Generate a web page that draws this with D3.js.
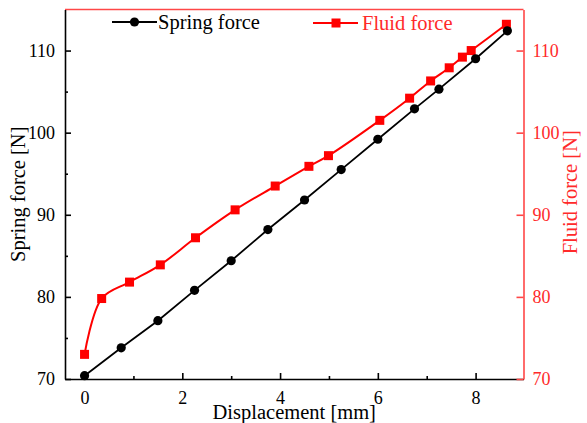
<!DOCTYPE html>
<html><head><meta charset="utf-8">
<script src="https://cdn.jsdelivr.net/npm/d3@7"></script>
<style>body{margin:0;background:#fff;} svg text{font-family:"Liberation Serif","Times New Roman",serif !important;}</style>
</head><body>
<svg id="chart" width="587" height="423"></svg>
<script>
const springX = [0, 0.75, 1.5, 2.25, 3, 3.75, 4.5, 5.25, 6, 6.75, 7.25, 8, 8.65];
const springY = [70.4, 73.8, 77.1, 80.8, 84.4, 88.2, 91.8, 95.5, 99.2, 102.9, 105.3, 109.0, 112.4];
const fluidX = [0, 0.35, 0.92, 1.55, 2.27, 3.08, 3.9, 4.59, 4.99, 6.04, 6.65, 7.08, 7.46, 7.73, 7.91, 8.63];
const fluidY = [73.0, 79.8, 81.8, 83.9, 87.2, 90.6, 93.5, 95.9, 97.2, 101.5, 104.2, 106.3, 107.9, 109.2, 110.0, 113.2];
const xTicks = [0, 2, 4, 6, 8];
const xMinor = [1, 3, 5, 7];
const yTicks = [70, 80, 90, 100, 110];
const yMinor = [75, 85, 95, 105];
const xTitle = "Displacement [mm]";
const yLeftTitle = "Spring force [N]";
const yRightTitle = "Fluid force [N]";
const legendNames = ["Spring force", "Fluid force"];

const svg = d3.select("#chart");
const L = 65, R = 523.5, T = 9.5, B = 379;
const red = "#ff0000", axisRed = "#ff4747", textRed = "#ff2a2a";
const x = d3.scaleLinear().domain([-0.4, 8.98]).range([L, R]);
const y = d3.scaleLinear().domain([70, 115]).range([B, T]);
const y2 = d3.scaleLinear().domain([70, 115]).range([B, T]);

const spring = springX.map((d, i) => [d, springY[i]]);
const fluid = fluidX.map((d, i) => [d, fluidY[i]]);

// top border
svg.append("line").attr("x1", L).attr("x2", R).attr("y1", T).attr("y2", T)
  .attr("stroke", axisRed).attr("stroke-width", 1.5);

function styleAxis(g, color, fs) {
  g.attr("font-family", null).attr("font-size", null);
  g.selectAll(".domain").attr("stroke", color).attr("stroke-width", 1.6);
  g.selectAll(".tick line").attr("stroke", color).attr("stroke-width", 1.6);
  g.selectAll(".tick text").attr("fill", color).style("font-size", fs + "px");
}

// bottom axis
const gx = svg.append("g").attr("transform", `translate(0,${B})`)
  .call(d3.axisBottom(x).tickValues(xTicks).tickSize(-6).tickSizeOuter(0).tickPadding(12).tickFormat(d3.format("d")));
styleAxis(gx, "#000", 18);
const gxm = svg.append("g").attr("transform", `translate(0,${B})`)
  .call(d3.axisBottom(x).tickValues(xMinor).tickSize(-3).tickSizeOuter(0).tickFormat(""));
styleAxis(gxm, "#000", 18);
gxm.select(".domain").remove();

// left axis
const gy = svg.append("g").attr("transform", `translate(${L},0)`)
  .call(d3.axisLeft(y).tickValues(yTicks).tickSize(-6).tickSizeOuter(0).tickPadding(10).tickFormat(d3.format("d")));
styleAxis(gy, "#000", 18);
const gym = svg.append("g").attr("transform", `translate(${L},0)`)
  .call(d3.axisLeft(y).tickValues(yMinor).tickSize(-3).tickSizeOuter(0).tickFormat(""));
styleAxis(gym, "#000", 18);
gym.select(".domain").remove();

// right axis
const gy2 = svg.append("g").attr("transform", `translate(${R},0)`)
  .call(d3.axisRight(y2).tickValues(yTicks).tickSize(-7).tickSizeOuter(0).tickPadding(9).tickFormat(d3.format("d")));
styleAxis(gy2, axisRed, 18);
gy2.selectAll(".tick text").attr("fill", textRed);

// titles
svg.append("text").attr("x", (L + R) / 2).attr("y", 419).attr("text-anchor", "middle")
  .style("font-size", "20.5px").attr("fill", "#000").text(xTitle);
svg.append("text").attr("transform", `translate(25,${(T + B) / 2}) rotate(-90)`).attr("text-anchor", "middle")
  .style("font-size", "20.5px").attr("fill", "#000").text(yLeftTitle);
svg.append("text").attr("transform", `translate(577,${(T + B) / 2 - 2}) rotate(-90)`).attr("text-anchor", "middle")
  .style("font-size", "20.5px").attr("fill", textRed).text(yRightTitle);

// lines
const lineS = d3.line().x(d => x(d[0])).y(d => y(d[1]));
const lineF = d3.line().x(d => x(d[0])).y(d => y2(d[1])).curve(d3.curveCatmullRom.alpha(0.5));
svg.append("path").datum(fluid).attr("d", lineF).attr("fill", "none").attr("stroke", red).attr("stroke-width", 2);
svg.append("path").datum(spring).attr("d", lineS).attr("fill", "none").attr("stroke", "#000").attr("stroke-width", 1.8);

svg.append("g").selectAll("rect").data(fluid).join("rect")
  .attr("x", d => x(d[0]) - 4.5).attr("y", d => y2(d[1]) - 4.5).attr("width", 9).attr("height", 9).attr("fill", red);
svg.append("g").selectAll("circle").data(spring).join("circle")
  .attr("cx", d => x(d[0])).attr("cy", d => y(d[1])).attr("r", 4.6).attr("fill", "#000");

// legend
const lg = svg.append("g");
lg.append("line").attr("x1", 112).attr("x2", 157).attr("y1", 22).attr("y2", 22).attr("stroke", "#000").attr("stroke-width", 1.8);
lg.append("circle").attr("cx", 134.5).attr("cy", 22).attr("r", 4.6).attr("fill", "#000");
lg.append("text").attr("x", 158).attr("y", 29).style("font-size", "20.5px").attr("fill", "#000").text(legendNames[0]);
lg.append("line").attr("x1", 313).attr("x2", 358).attr("y1", 23).attr("y2", 23).attr("stroke", red).attr("stroke-width", 2);
lg.append("rect").attr("x", 331.5).attr("y", 18.5).attr("width", 9).attr("height", 9).attr("fill", red);
lg.append("text").attr("x", 362).attr("y", 30).style("font-size", "20.5px").attr("fill", textRed).text(legendNames[1]);
</script>
</body></html>
